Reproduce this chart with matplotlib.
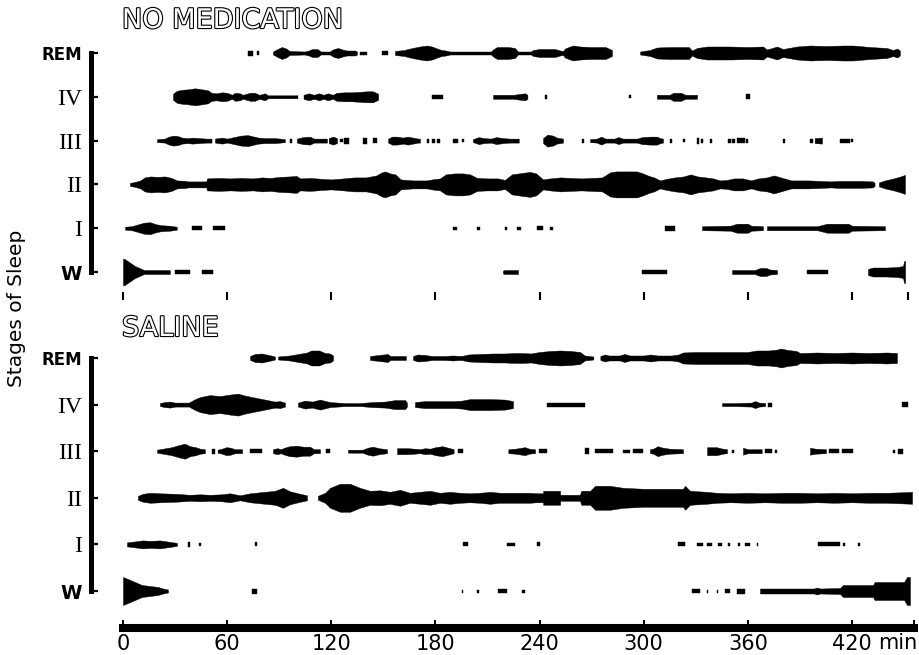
import matplotlib
matplotlib.use("Agg")
import matplotlib.pyplot as plt
import matplotlib.patheffects as pe
import numpy as np

# stages from bottom to top
STAGES = ['W', 'I', 'II', 'III', 'IV', 'REM']
TICKS = [0, 60, 120, 180, 240, 300, 360, 420]
TICK_LABELS = ['0', '60', '120', '180', '240', '300', '360', '420']
TOP_END = 452        # last mark of the upper record (min)
BOTTOM_END = 455.7   # end of the time bar (min)

# every row = list of runs, every run = (minute, subjects in stage) knots
# ---------------- NO MEDICATION ----------------
nomed_rem = [
    [(72.0, 5), (75.0, 5)],
    [(77.2, 4), (78.5, 4)],
    [(86.4, 3), (89.0, 8), (91.5, 12), (94.0, 9), (96.0, 4), (104.5, 3), (107.0, 5), (109.0, 8),
     (112.0, 8), (114.0, 3), (119.0, 3), (121.5, 8), (124.0, 10), (126.5, 7), (129.0, 5),
     (133.7, 5), (134.8, 3)],
    [(136.5, 3), (140.6, 3)],
    [(149.2, 4), (152.7, 4)],
    [(156.7, 4), (162.0, 6), (165.3, 9), (171.0, 13), (175.1, 15), (178.0, 13), (181.0, 9),
     (183.5, 6), (186.0, 5), (188.4, 3), (212.0, 3), (213.2, 7), (215.5, 12), (222.0, 12),
     (225.8, 10), (227.5, 3), (235.0, 3), (236.2, 6), (240.0, 8), (248.9, 8), (251.8, 5),
     (253.5, 4), (254.6, 9), (257.5, 13), (259.5, 15), (263.3, 13), (270.0, 12), (278.0, 12),
     (281.7, 6)],
    [(297.9, 3), (303.6, 6), (307.6, 11), (315.0, 12), (326.0, 12), (327.8, 5), (330.7, 10),
     (336.5, 13), (350.0, 13), (360.0, 12), (368.7, 13), (371.0, 7), (376.8, 13), (380.2, 8),
     (388.3, 13), (395.8, 15), (405.0, 14), (414.8, 15), (420.6, 15), (430.4, 12), (440.2, 10),
     (443.6, 6), (446.0, 9), (447.6, 5)],
]
nomed_iv = [
    [(28.8, 6), (31.0, 12), (34.0, 14), (37.5, 15), (41.5, 17), (45.5, 15), (49.0, 13), (51.0, 8),
     (54.0, 7), (57.0, 9), (60.0, 8), (62.8, 4), (64.5, 8), (67.4, 7), (69.0, 4), (73.2, 8),
     (76.0, 8), (78.5, 4), (81.8, 7), (83.5, 3), (100.5, 3)],
    [(104.0, 4), (107.0, 7), (110.0, 4), (113.0, 7), (115.5, 4), (118.0, 7), (121.0, 4),
     (123.0, 8), (127.9, 9), (131.9, 9), (136.5, 10), (140.6, 11), (144.0, 11), (147.0, 6)],
    [(178.0, 4), (184.4, 4)],
    [(213.2, 4), (225.0, 4), (229.0, 6), (231.6, 7), (233.0, 4)],
    [(243.0, 4), (244.0, 4)],
    [(291.5, 3), (292.5, 3)],
    [(307.6, 4), (315.0, 4), (317.0, 8), (321.5, 8), (324.0, 4), (330.7, 4)],
    [(359.2, 5), (361.0, 5)],
]
nomed_iii = [
    [(19.6, 3), (24.0, 4), (26.5, 8), (29.0, 10), (31.7, 9), (34.0, 6), (37.0, 5), (40.0, 6),
     (44.0, 5), (48.0, 4), (51.0, 4)],
    [(53.0, 4), (57.0, 6), (60.0, 4), (64.0, 7), (68.0, 10), (72.0, 11), (75.5, 8), (78.0, 6),
     (82.0, 5), (87.6, 5), (90.5, 4), (93.3, 3)],
    [(96.2, 4), (97.4, 4)],
    [(100.2, 4), (103.7, 7), (107.7, 8), (110.0, 4), (116.4, 4), (117.5, 4)],
    [(118.5, 5), (121.0, 8), (123.3, 5)],
    [(125.0, 3), (126.5, 3)], [(127.5, 6), (130.0, 6)],
    [(138.0, 6), (140.6, 6)],
    [(144.0, 5), (146.3, 5)],
    [(152.7, 4), (155.0, 8), (158.0, 8), (161.3, 6), (164.0, 8), (167.0, 6), (170.0, 4),
     (171.1, 4)],
    [(175.1, 4), (176.5, 4)], [(178.0, 4), (179.5, 4)], [(181.0, 4), (182.6, 4)],
    [(190.1, 4), (193.0, 4)], [(195.3, 3), (196.5, 3)],
    [(201.6, 3), (205.0, 7), (208.0, 5), (212.0, 4), (215.0, 7), (219.0, 5), (223.0, 4),
     (228.0, 4)],
    [(242.0, 5), (244.5, 12), (247.7, 10), (250.0, 6), (253.5, 4)],
    [(264.4, 4), (265.5, 4)],
    [(269.1, 3), (273.0, 4), (275.5, 8), (278.0, 4), (283.0, 4), (285.5, 7), (288.0, 4),
     (296.1, 4), (299.0, 7), (303.6, 8), (307.6, 8), (309.5, 5), (311.1, 4)],
    [(315.1, 4), (316.5, 4)],
    [(322.6, 3), (323.5, 3)],
    [(330.7, 6), (332.0, 6)], [(333.0, 4), (334.2, 4)],
    [(338.2, 4), (339.6, 4)],
    [(348.6, 4), (350.0, 4)], [(350.9, 4), (352.5, 4)], [(353.7, 5), (358.3, 5)],
    [(359.2, 4), (360.1, 4)],
    [(380.2, 4), (381.4, 4)],
    [(395.8, 4), (397.5, 4)], [(398.5, 5), (402.7, 6)],
    [(413.1, 4), (418.8, 4)], [(419.5, 3), (420.6, 3)],
]
nomed_ii = [
    [(4.0, 3), (7.0, 5), (10.0, 8), (12.5, 14), (16.0, 16), (20.0, 15), (24.0, 16), (28.0, 13),
     (31.0, 8), (36.5, 7), (37.0, 6), (48.0, 6), (48.4, 12), (55.0, 13), (62.0, 12), (68.0, 13),
     (75.0, 12), (80.0, 14), (85.0, 13), (90.0, 15), (96.0, 16), (100.0, 17), (102.0, 12),
     (108.0, 13), (115.0, 11), (120.0, 10), (127.0, 12), (133.0, 14), (140.0, 14), (146.0, 18),
     (149.0, 24), (151.0, 26), (154.0, 22), (157.0, 20), (160.0, 10), (167.0, 8), (175.0, 8),
     (178.0, 10), (182.6, 12), (186.0, 20), (191.0, 22), (196.0, 22), (200.0, 20), (204.0, 13),
     (210.0, 12), (216.0, 12), (220.0, 9), (224.0, 20), (230.0, 23), (234.5, 25), (238.0, 22),
     (242.0, 10), (246.0, 12), (252.0, 14), (258.0, 13), (264.0, 12), (270.0, 13), (276.0, 14),
     (280.6, 24), (284.0, 26), (296.0, 26), (299.6, 22), (303.0, 17), (306.0, 14), (309.4, 8),
     (313.0, 11), (318.0, 14), (323.0, 16), (327.0, 20), (331.0, 16), (336.0, 14), (340.0, 12),
     (344.0, 8), (348.0, 9), (352.0, 12), (357.0, 12), (362.0, 8), (366.0, 12), (371.0, 14),
     (375.0, 18), (380.0, 13), (385.0, 8), (395.0, 8), (402.0, 7), (408.0, 6), (412.0, 7),
     (425.0, 7), (432.0, 6), (433.0, 3)],
    [(435.5, 4), (439.0, 8), (444.0, 12), (448.0, 16), (450.5, 19)],
]
nomed_i = [
    [(1.2, 3), (5.0, 4), (9.0, 8), (12.0, 11), (15.6, 12), (19.0, 8), (22.0, 6), (27.0, 5),
     (31.0, 3)],
    [(39.8, 4), (45.5, 4)], [(51.9, 4), (58.8, 4)],
    [(190.1, 3), (192.5, 3)], [(204.0, 3), (205.7, 3)], [(220.1, 3), (221.2, 3)],
    [(227.0, 3), (229.5, 3)], [(238.5, 4), (242.0, 4)], [(246.0, 3), (247.7, 3)],
    [(312.3, 5), (318.0, 5)],
    [(333.6, 4), (350.0, 5), (353.7, 9), (360.0, 9), (362.0, 5), (368.7, 4)],
    [(371.0, 4), (400.0, 4), (405.6, 9), (418.0, 9), (420.0, 5), (439.0, 4)],
]
nomed_w = [
    [(0.0, 27), (1.0, 26), (3.5, 20), (6.9, 12), (11.5, 5), (12.0, 4), (27.0, 4)],
    [(30.0, 4), (38.6, 4)], [(45.5, 4), (51.9, 4)],
    [(218.9, 3), (220.0, 4), (227.6, 4)],
    [(299.0, 4), (313.4, 4)],
    [(350.9, 4), (364.0, 4), (367.0, 8), (370.5, 8), (372.8, 5), (376.8, 4)],
    [(394.1, 4), (406.2, 4)],
    [(429.2, 6), (432.0, 9), (440.0, 9), (446.0, 10), (449.4, 12), (450.0, 22), (450.6, 22)],
]

# ---------------- SALINE ----------------
sal_rem = [
    [(73.2, 4), (76.0, 8), (80.0, 9), (84.0, 6), (87.6, 3)],
    [(89.3, 3), (96.0, 5), (101.0, 8), (106.0, 11), (108.5, 15), (113.0, 15), (116.4, 10),
     (119.3, 9), (121.0, 5)],
    [(142.3, 4), (145.0, 5), (150.0, 7), (152.5, 8), (154.0, 4), (158.0, 4), (163.0, 4)],
    [(167.1, 4), (170.0, 7), (174.0, 6), (178.0, 4), (185.0, 4), (190.0, 5), (195.0, 4),
     (199.0, 7), (205.0, 8), (213.0, 9), (220.0, 9), (225.8, 10), (230.0, 10), (235.0, 9),
     (240.0, 12), (246.0, 14), (252.0, 15), (258.0, 14), (263.3, 12), (266.0, 5), (271.0, 3)],
    [(275.0, 4), (277.5, 7), (280.0, 5), (286.0, 5), (289.0, 8), (292.0, 5), (300.0, 5),
     (304.0, 7), (308.0, 5), (316.0, 5), (320.0, 7), (322.6, 11), (330.0, 12), (345.0, 12),
     (360.0, 12), (365.0, 15), (372.0, 15), (377.0, 17), (379.0, 19), (383.0, 16), (388.0, 14),
     (390.0, 10), (400.0, 11), (410.0, 10), (420.0, 11), (430.0, 10), (440.0, 11), (445.9, 10)],
]
sal_iv = [
    [(21.3, 3), (24.0, 5), (27.0, 6), (30.0, 4), (38.0, 4), (41.0, 10), (44.4, 15), (50.1, 19),
     (55.9, 17), (61.6, 20), (66.3, 22), (70.3, 18), (76.0, 14), (81.8, 10), (87.6, 6),
     (90.5, 7), (93.3, 4)],
    [(100.8, 4), (104.9, 8), (108.9, 6), (113.5, 10), (119.3, 5), (127.9, 3), (136.5, 3),
     (143.5, 5), (150.9, 6), (156.7, 9), (162.5, 9), (163.6, 4)],
    [(168.2, 5), (174.0, 7), (182.6, 7), (191.3, 7), (195.3, 8), (199.9, 11), (211.4, 11),
     (220.1, 10), (224.7, 7)],
    [(244.3, 4), (266.2, 4)],
    [(345.1, 3), (352.0, 3), (362.0, 4), (364.1, 7), (366.5, 4), (370.0, 3)],
    [(371.6, 4), (373.9, 4)],
    [(448.8, 5), (452.0, 5)],
]
sal_iii = [
    [(19.6, 3), (23.0, 5), (28.0, 8), (33.0, 13), (35.7, 15), (38.6, 10), (42.0, 8), (44.4, 5),
     (47.2, 4)],
    [(51.3, 5), (53.0, 5)],
    [(54.5, 3), (57.0, 5), (59.5, 8), (62.0, 7), (64.5, 4), (68.6, 4)],
    [(73.2, 4), (80.1, 4)],
    [(86.4, 4), (89.0, 6), (91.0, 4), (93.0, 7), (96.0, 10), (100.0, 11), (104.0, 9),
     (107.7, 9), (110.0, 4), (113.5, 4)],
    [(117.0, 4), (119.0, 4)],
    [(129.6, 3), (138.0, 3), (141.0, 7), (144.0, 9), (147.5, 6), (152.1, 4)],
    [(157.9, 6), (164.0, 6), (168.0, 5), (171.1, 4), (174.0, 6), (176.9, 5), (180.0, 8),
     (184.0, 10), (188.4, 6), (190.5, 4)],
    [(193.0, 4), (196.0, 4)],
    [(222.0, 4), (226.0, 5), (231.6, 8), (234.0, 5), (236.2, 4), (237.4, 4)],
    [(239.5, 4), (244.3, 4)],
    [(266.2, 6), (268.5, 6)],
    [(271.9, 4), (282.3, 4)],
    [(288.1, 3), (292.1, 3)],
    [(293.8, 4), (299.6, 4)],
    [(303.6, 4), (305.5, 5), (308.0, 10), (311.0, 7), (315.0, 5), (322.6, 4)],
    [(336.5, 8), (342.0, 8), (345.5, 5), (348.0, 4)],
    [(351.0, 3), (352.0, 3)],
    [(357.2, 7), (360.0, 4), (366.0, 4), (368.0, 4)], [(370.0, 4), (374.0, 4)],
    [(375.5, 3), (376.8, 3)],
    [(395.8, 7), (399.0, 5), (405.0, 4)], [(406.5, 4), (412.5, 4)], [(414.0, 4), (420.6, 4)],
    [(443.6, 3), (445.0, 3)], [(446.5, 5), (449.4, 5)],
]
sal_ii = [
    [(8.6, 4), (11.5, 8), (15.6, 10), (21.3, 9), (30.0, 8), (38.6, 6), (44.4, 7), (50.1, 6),
     (57.0, 7), (61.6, 9), (67.4, 5), (73.2, 9), (81.8, 12), (87.6, 14), (92.2, 20), (96.2, 13),
     (102.0, 8), (106.0, 5)],
    [(112.3, 4), (116.4, 10), (119.3, 20), (125.0, 28), (130.8, 28), (136.5, 20), (142.3, 14),
     (148.1, 15), (153.8, 12), (159.6, 16), (165.3, 10), (171.1, 12), (176.9, 14), (182.6, 10),
     (188.4, 12), (194.2, 10), (199.9, 9), (205.7, 10), (211.4, 12), (217.2, 10), (225.8, 10),
     (234.5, 10), (238.0, 9), (242.0, 9), (242.1, 14), (251.8, 14), (251.9, 6), (263.3, 6),
     (264.0, 14), (269.1, 14), (272.0, 24), (280.6, 24), (288.1, 20), (300.0, 18), (315.0, 18),
     (322.6, 18), (323.8, 24), (326.7, 14), (336.0, 12), (342.2, 10), (350.0, 9), (360.0, 10),
     (370.0, 9), (380.0, 10), (390.0, 10), (400.0, 9), (410.0, 10), (420.0, 9), (430.0, 10),
     (440.0, 10), (448.0, 11), (454.6, 12)],
]
sal_i = [
    [(2.3, 4), (6.9, 6), (11.5, 8), (15.6, 7), (21.3, 8), (27.1, 5), (31.1, 3)],
    [(37.4, 5), (38.6, 5)], [(43.8, 3), (44.9, 3)], [(76.0, 4), (77.2, 4)],
    [(195.9, 4), (198.8, 4)], [(221.2, 3), (225.8, 3)], [(238.5, 4), (240.3, 4)],
    [(319.8, 4), (323.8, 4)],
    [(330.7, 3), (334.2, 3)], [(336.5, 3), (339.3, 3)], [(342.8, 3), (345.0, 3)],
    [(348.6, 3), (349.7, 3)], [(354.3, 3), (355.5, 3)], [(358.3, 3), (361.2, 3)],
    [(365.3, 3), (366.0, 3)],
    [(400.4, 4), (413.1, 4)], [(414.8, 3), (416.0, 3)], [(423.5, 3), (424.6, 3)],
]
sal_w = [
    [(0.0, 28), (2.9, 24), (6.9, 18), (10.9, 12), (15.6, 10), (20.2, 8), (23.0, 5), (25.9, 3)],
    [(74.3, 5), (77.2, 5)],
    [(195.3, 3), (195.9, 3)], [(204.0, 3), (205.1, 3)], [(216.0, 4), (221.2, 4)],
    [(229.9, 3), (231.6, 3)],
    [(327.8, 4), (332.4, 4)], [(336.5, 3), (337.2, 3)], [(342.2, 3), (342.9, 3)],
    [(346.8, 4), (349.7, 4)], [(353.7, 5), (358.3, 5)],
    [(367.0, 5), (398.0, 5), (399.8, 7), (401.6, 5), (413.1, 6), (414.8, 12), (432.1, 12),
     (433.0, 18), (450.0, 18), (451.7, 28), (453.4, 28)],
]

nomed = [nomed_w, nomed_i, nomed_ii, nomed_iii, nomed_iv, nomed_rem]
saline = [sal_w, sal_i, sal_ii, sal_iii, sal_iv, sal_rem]

FIG_W, FIG_H = 919, 655
XLIM = (-47.82, 458.6)

fig = plt.figure(figsize=(FIG_W / 100, FIG_H / 100), dpi=100)
ax1 = fig.add_axes([40 / FIG_W, 1 - 305 / FIG_H, 879 / FIG_W, 270 / FIG_H])
ax2 = fig.add_axes([40 / FIG_W, 5 / FIG_H, 879 / FIG_W, 310 / FIG_H])
ax1.set_xlim(XLIM)
ax1.set_ylim(-0.753, 5.411)
ax2.set_xlim(XLIM)
ax2.set_ylim(-1.266, 5.386)


def draw_rows(ax, rows):
    lo, hi = ax.get_ylim()
    row_px = ax.get_position().height * FIG_H / (hi - lo)
    for y, runs in enumerate(rows):
        for run in runs:
            t = np.array([p[0] for p in run])
            n = np.array([p[1] for p in run], dtype=float)
            half = n / row_px / 2
            ax.fill_between(t, y - half, y + half, color='black', linewidth=0.3)


def stage_axis(ax):
    for s in ['top', 'right', 'bottom']:
        ax.spines[s].set_visible(False)
    sp = ax.spines['left']
    sp.set_position(('data', -18.7))
    sp.set_linewidth(3.6)
    sp.set_bounds(0, 5)
    ax.set_yticks(range(len(STAGES)), labels=STAGES)
    ax.tick_params(axis='y', direction='in', length=5, width=1.6, pad=6)
    for lbl in ax.get_yticklabels():
        txt = lbl.get_text()
        if txt == 'REM':
            lbl.set_fontsize(12)
            lbl.set_fontweight('bold')
        elif txt == 'W':
            lbl.set_fontsize(14)
            lbl.set_fontweight('bold')
        else:
            lbl.set_fontfamily('Liberation Serif')
            lbl.set_fontsize(17)


draw_rows(ax1, nomed)
draw_rows(ax2, saline)
stage_axis(ax1)
stage_axis(ax2)

# upper panel: only small time marks
ax1.set_xticks([])
ax1.vlines(TICKS + [TOP_END], -0.64, -0.46, color='black', linewidth=1.5)

# lower panel: heavy time bar
bar = ax2.spines['bottom']
bar.set_visible(True)
bar.set_position(('data', -0.794))
bar.set_linewidth(5.8)
bar.set_bounds(0, BOTTOM_END)
ax2.set_xticks(TICKS, labels=TICK_LABELS)
ax2.set_xticks([BOTTOM_END], minor=True)
ax2.tick_params(axis='x', which='both', direction='in', length=5.5, width=1.4, pad=4,
                labelsize=15)
ax2.text(435.3, -1.255, 'min', fontsize=15, ha='left', va='baseline')

outline = [pe.withStroke(linewidth=1.6, foreground='black')]
fig.text(122 / FIG_W, 1 - 21 / FIG_H, 'NO MEDICATION', fontsize=19.5, color='white',
         ha='left', va='center', path_effects=outline)
fig.text(122 / FIG_W, 1 - 329 / FIG_H, 'SALINE', fontsize=19.5, color='white',
         ha='left', va='center', path_effects=outline)
fig.text(17 / FIG_W, 1 - 308 / FIG_H, 'Stages of Sleep', fontsize=14.5, rotation=90,
         ha='center', va='center')

fig.savefig('out.png', dpi=100)
